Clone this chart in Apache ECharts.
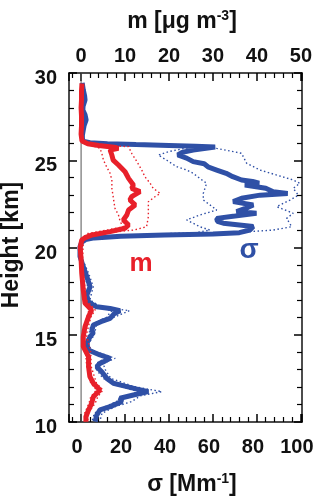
<!DOCTYPE html>
<html>
<head>
<meta charset="utf-8">
<script src="https://cdn.jsdelivr.net/npm/echarts@6/dist/echarts.min.js"></script>
<style>
  html, body { margin: 0; padding: 0; background: #fff; }
  #chart { width: 320px; height: 501px; }
</style>
</head>
<body>
<div id="chart"></div>
<script>
// ---- data (height in km) ----
// σ, thick blue line (bottom axis, Mm-1)
const sigmaH = [29.43, 29.03, 28.7, 28.45, 28.1, 27.88, 27.6, 27.31, 27.0, 26.73, 26.45, 26.27, 26.1, 26.0, 25.95, 25.9, 25.85, 25.8, 25.76,
  25.59, 25.45, 25.3, 25.12, 24.92, 24.8, 24.73, 24.6, 24.44, 24.25, 24.06, 23.87, 23.78, 23.68, 23.58, 23.4, 23.2, 23.1, 23.0,
  22.82, 22.63, 22.44, 22.3, 22.06, 21.96, 21.8, 21.67, 21.5, 21.39, 21.2, 21.0, 20.85, 20.78, 20.72, 20.65, 20.55, 20.45, 20.3,
  20.05, 19.48, 18.9, 18.33, 17.75, 17.28, 16.9, 16.75, 16.6, 16.51, 16.38, 16.2, 15.94, 15.75, 15.56, 15.27, 15.1, 14.89, 14.51,
  14.13, 13.84, 13.65, 13.5, 13.36, 13.17, 12.88, 12.5, 12.22, 12.03, 11.9, 11.74, 11.55, 11.36, 11.17, 10.88, 10.69, 10.4, 10.02]
const sigmaVal = [0.5, 1.0, 1.6, 1.8, 0.9, 0.8, 1.8, 2.3, 1.4, 1.0, 0.6, 0.6, 0.8, 4, 12, 25, 40, 52, 61,
  51, 46, 44, 48, 51, 56, 55.5, 58, 61.7, 66, 69, 73, 78, 81, 74.5, 84, 87.4, 94, 81.4,
  73, 69.2, 78.3, 76, 70.7, 79.8, 70, 61.7, 62, 64.7, 78.3, 76.8, 72, 60, 38, 18, 6, 2, 0.3,
  -0.5, -0.5, 1, 2.6, 4.1, 2.6, 3.3, 5, 7.1, 13.2, 17.7, 15, 13.2, 9, 5.6, 4.9, 5.5, 4.1, 2.6,
  3.3, 8.6, 13.2, 11, 8.6, 7.1, 9.4, 11.7, 14.7, 20.8, 25, 30.6, 23.8, 17.7, 18.5, 13.2, 8.6, 7.1, 6.4]

// σ, dotted bounds
const sigmaLoH = [25.8, 25.7, 25.5, 25.3, 25.0, 24.63, 24.44, 24.25, 23.96, 23.68, 23.1, 22.72, 22.44, 22.15, 21.86, 21.58, 21.39,
  21.19, 21.0, 20.85, 20.75, 20.65, 20.5, 20.3, 19.5, 18.5, 17.75, 17.0, 16.6, 16.38, 16.0, 15.56, 15.0, 14.5, 14.13, 13.65, 13.36,
  13.0, 12.5, 12.03, 11.74, 11.5, 11.17, 10.88, 10.5, 10.02]
const sigmaLo = [52, 48, 40, 35.1, 39, 43.5, 48, 51, 54, 57.1, 55.6, 55.6, 58.6, 61.7, 54, 48, 51,
  54, 58.6, 52, 30, 12, 2, 0, -1, 1.5, 3, 2.5, 5.5, 14, 11.5, 4.5, 3.5, 2, 2.5, 11, 7,
  7, 10, 18, 26, 21, 16, 11, 6, 5]
const sigmaHiH = [25.8, 25.68, 25.4, 24.83, 24.44, 24.15, 23.87, 23.68, 23.39, 23.0, 22.72, 22.34, 21.96, 21.67, 21.19, 21.0,
  20.85, 20.75, 20.65, 20.5, 20.3, 19.5, 18.5, 17.75, 17.0, 16.6, 16.38, 16.0, 15.56, 15.0, 14.5, 14.13, 13.65, 13.36,
  13.0, 12.5, 12.03, 11.74, 11.5, 11.17, 10.88, 10.5, 10.02]
const sigmaHi = [58, 61.7, 73, 75.3, 81.4, 89, 96.5, 99.5, 96.5, 98.8, 95, 89, 96.5, 93.5, 95.8, 87.4,
  70, 40, 15, 3, 0.8, 0, 3.5, 5.5, 4, 9, 22, 15, 7, 6, 3.5, 4.5, 15.5, 10,
  11, 13.5, 24, 36.7, 27, 23, 15.5, 9.5, 8.5]

// m, thick red line (top axis, µg m-3)
const massH = [29.4, 29.0, 28.5, 28.0, 27.5, 27.0, 26.5, 26.1, 25.95, 25.85, 25.75, 25.68, 25.59, 25.3, 25.01, 24.73, 24.34, 23.96,
  23.58, 23.39, 23.2, 22.91, 22.72, 22.44, 22.15, 21.86, 21.58, 21.29, 21.1, 20.91, 20.72, 20.55, 20.43, 20.0, 19.3, 18.52,
  17.56, 16.8, 16.42, 16.04, 15.47, 14.89, 14.32, 13.74, 13.17, 12.6, 12.22, 11.83, 11.45, 11.07, 10.69, 10.3, 10.02]
const massVal = [0.2, 0.1, 0.1, 0.0, 0.1, 0.1, 0.0, 0.2, 1.5, 4, 7.5, 8.5, 6.6, 7, 7.3, 8.5, 10, 10.8,
  11.9, 11.5, 13.4, 11.5, 11.1, 12.3, 10.8, 10.4, 9.6, 10.8, 10, 6.6, 2.5, 0.8, 0.15, -0.2, 0, 0.15,
  0.5, 0.9, 2.4, 1.7, 0.9, 0.5, 0.5, 1.7, 1.7, 2.0, 2.8, 4.3, 2.8, 2.4, 1.7, 1.1, 1.1]

// m, dotted bounds
const massLoH = [25.8, 25.68, 25.4, 25.0, 24.63, 24.25, 23.87, 23.39, 22.91, 22.25, 21.86, 21.48, 21.19, 21.0, 20.8, 20.4,
  19.0, 17.0, 16.42, 16.0, 15.0, 14.0, 13.17, 12.22, 11.83, 11.45, 11.07, 10.5, 10.02]
const massLo = [3, 4.3, 4.7, 5.1, 5.8, 6.6, 7.0, 7.0, 7.3, 7.7, 8.5, 8.9, 9.6, 6, 1.5, -0.3,
  -0.2, 0.5, 1.8, 1.3, 0.3, 1.0, 1.3, 2.2, 3.5, 2.2, 1.8, 0.8, 0.8]
const massHiH = [25.85, 25.78, 25.4, 24.92, 24.44, 24.06, 23.68, 23.39, 23.1, 22.91, 22.62, 22.25, 21.77, 21.19, 21.0, 20.85, 20.7,
  20.4, 19.0, 17.0, 16.42, 16.0, 15.0, 14.0, 13.17, 12.22, 11.83, 11.45, 11.07, 10.5, 10.02]
const massHi = [6, 10.8, 11.5, 12.7, 13.8, 14.5, 15.7, 16.4, 18.0, 16.8, 15.3, 15.3, 15.3, 14.9, 12, 6, 2,
  0.5, 0.3, 1.2, 3.2, 2.2, 1.2, 2.2, 2.3, 3.5, 5, 3.8, 3.2, 1.6, 1.5]

// zero reference line (σ = 0) across the whole height range
const zeroH = [10, 30]
const zeroVal = [0, 0]

const heightTicks = [10, 30, 5]     // min, max, step
const sigmaRange = [-5.5, 100.5]
const massRange = [-2.75, 50.25]

const blue = '#2f50a6'
const red = '#e8202a'
const ink = '#111'
const font = 'Liberation Sans, Arial, sans-serif'

function pairs(vals, hs) {
  return vals.map((v, i) => [v, hs[i]])
}

// fresh style objects for every axis
function tick() { return { show: true, inside: true, length: 8, lineStyle: { color: '#000', width: 1.5 } } }
function minor() { return { show: true, splitNumber: 5, length: 5, lineStyle: { color: '#000', width: 1.2 } } }
function line() { return { show: true, onZero: false, lineStyle: { color: '#111', width: 1.5 } } }
function richName() {
  return {
    t: { fontFamily: font, fontWeight: 'bold', fontSize: 23, fill: ink, color: ink, lineHeight: 26 },
    s: { fontFamily: font, fontWeight: 'bold', fontSize: 14, fill: ink, color: ink, verticalAlign: 'top', lineHeight: 26 }
  }
}
function label(extra) {
  return Object.assign({ color: ink, fontFamily: font, fontWeight: 'bold', fontSize: 20 }, extra)
}
function title(x, y, text, rotation) {
  return {
    type: 'text', x: x, y: y, rotation: rotation || 0,
    style: {
      text: text, rich: richName(), fill: ink,
      font: 'bold 23px ' + font,
      align: 'center', verticalAlign: 'middle', textAlign: 'center', textVerticalAlign: 'middle'
    }
  }
}

let myChart = echarts.init(document.getElementById('chart'))

let option = {
  animation: false,
  backgroundColor: '#fff',
  grid: { left: 69, right: 18, top: 73, bottom: 79, containLabel: false, outerBoundsMode: 'none' },
  xAxis: [
    { // σ, bottom
      type: 'value',
      position: 'bottom',
      min: sigmaRange[0],
      max: sigmaRange[1],
      splitNumber: 5,
      axisLine: line(),
      axisTick: tick(),
      minorTick: minor(),
      splitLine: { show: false },
      axisLabel: label({
        margin: 15,
        padding: [0, 8, 0, 0],
        formatter: v => (Math.abs(v % 20) < 1e-6 ? String(v) : '')
      })
    },
    { // m, top
      type: 'value',
      position: 'top',
      min: massRange[0],
      max: massRange[1],
      splitNumber: 5,
      axisLine: line(),
      axisTick: tick(),
      minorTick: minor(),
      splitLine: { show: false },
      axisLabel: label({
        margin: 7,
        formatter: v => (Math.abs(v % 10) < 1e-6 ? String(v) : '')
      })
    }
  ],
  yAxis: [
    {
      type: 'value',
      position: 'left',
      min: heightTicks[0],
      max: heightTicks[1],
      interval: heightTicks[2],
      axisLine: line(),
      axisTick: tick(),
      minorTick: minor(),
      splitLine: { show: false },
      axisLabel: label({ margin: 12, verticalAlign: 'top', lineHeight: 11 })
    },
    {
      type: 'value',
      position: 'right',
      min: heightTicks[0],
      max: heightTicks[1],
      interval: heightTicks[2],
      axisLine: line(),
      axisTick: tick(),
      minorTick: minor(),
      splitLine: { show: false },
      axisLabel: label({ formatter: () => '' })
    }
  ],
  graphic: [
    title(182, 22, '{t|m [μg m}{s|-3}{t|]}'),
    title(192, 485, '{t|σ [Mm}{s|-1}{t|]}'),
    title(12, 245, '{t|Height [km]}', Math.PI / 2),
    { type: 'text', x: 141, y: 264, style: { text: 'm', fill: red, font: 'bold 26px ' + font, textAlign: 'center', textVerticalAlign: 'middle' } },
    { type: 'text', x: 249, y: 250, style: { text: 'σ', fill: blue, font: 'bold 28px ' + font, textAlign: 'center', textVerticalAlign: 'middle' } }
  ],
  series: [
    {
      name: 'zero', type: 'line', xAxisIndex: 0, yAxisIndex: 0, showSymbol: false, silent: true,
      lineStyle: { color: '#555', width: 1 },
      data: pairs(zeroVal, zeroH)
    },
    {
      name: 'σ low', type: 'line', xAxisIndex: 0, yAxisIndex: 0, showSymbol: false,
      lineStyle: { color: blue, width: 1.4, type: [1.5, 2.5] },
      data: pairs(sigmaLo, sigmaLoH)
    },
    {
      name: 'σ high', type: 'line', xAxisIndex: 0, yAxisIndex: 0, showSymbol: false,
      lineStyle: { color: blue, width: 1.4, type: [1.5, 2.5] },
      data: pairs(sigmaHi, sigmaHiH)
    },
    {
      name: 'σ', type: 'line', xAxisIndex: 0, yAxisIndex: 0, showSymbol: false,
      lineStyle: { color: blue, width: 5 },
      data: pairs(sigmaVal, sigmaH)
    },
    {
      name: 'm low', type: 'line', xAxisIndex: 1, yAxisIndex: 0, showSymbol: false,
      lineStyle: { color: red, width: 1.4, type: [1.5, 2.5] },
      data: pairs(massLo, massLoH)
    },
    {
      name: 'm high', type: 'line', xAxisIndex: 1, yAxisIndex: 0, showSymbol: false,
      lineStyle: { color: red, width: 1.4, type: [1.5, 2.5] },
      data: pairs(massHi, massHiH)
    },
    {
      name: 'm', type: 'line', xAxisIndex: 1, yAxisIndex: 0, showSymbol: false,
      lineStyle: { color: red, width: 5 },
      data: pairs(massVal, massH)
    }
  ]
}

myChart.setOption(option)
</script>
</body>
</html>
